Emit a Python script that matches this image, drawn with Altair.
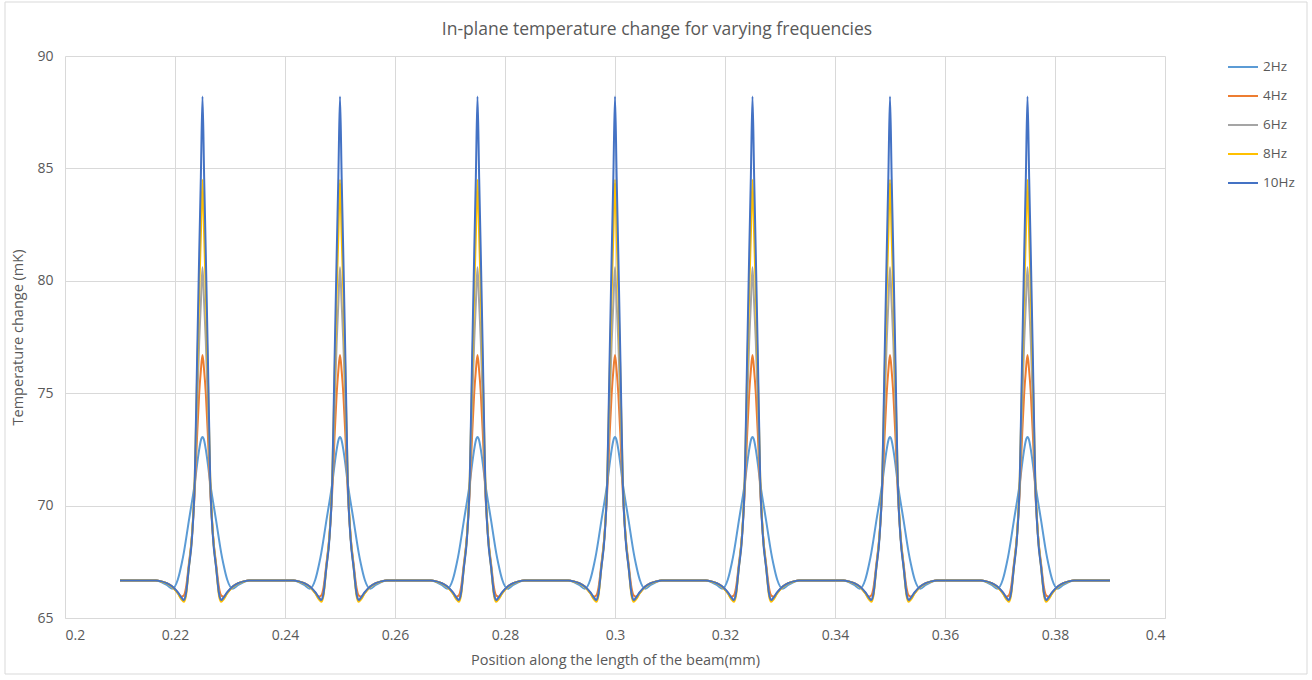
import altair as alt
import pandas as pd

# Series labels and colours (Office palette)
series = ["2Hz", "4Hz", "6Hz", "8Hz", "10Hz"]
colors = ["#5B9BD5", "#ED7D31", "#A5A5A5", "#FFC000", "#4472C4"]

# Heater positions along the beam (mm) and the flat level between them (mK)
centers = [0.225, 0.25, 0.275, 0.3, 0.325, 0.35, 0.375]
baseline = 66.67
x_start, x_end = 0.21, 0.39

# Distance from a heater centre (mm) and the temperature read at that distance
offsets = [0.0, 0.0003, 0.0006, 0.001, 0.0014, 0.0019, 0.0025, 0.003,
           0.0034, 0.0038, 0.0045, 0.0055, 0.0065, 0.0075, 0.0085]
profile_2hz = [73.05, 72.9, 72.5, 71.8, 71.0, 70.2, 69.3, 68.5,
               67.9, 67.4, 66.7, 66.3, 66.47, 66.6, 66.67]
profile_4hz = [76.7, 76.0, 75.0, 73.0, 70.7, 68.7, 67.35, 66.35,
               66.0, 65.95, 66.12, 66.4, 66.55, 66.63, 66.67]
profile_6hz = [80.6, 79.0, 77.3, 74.3, 71.0, 68.7, 67.25, 66.1,
               65.82, 65.85, 66.12, 66.4, 66.55, 66.63, 66.67]
profile_8hz = [84.5, 82.0, 79.5, 75.5, 71.3, 68.7, 67.2, 66.0,
               65.72, 65.82, 66.1, 66.38, 66.54, 66.62, 66.67]
profile_10hz = [88.2, 84.6, 81.2, 76.3, 71.2, 68.6, 67.2, 66.1,
                65.8, 65.9, 66.15, 66.4, 66.55, 66.63, 66.67]
profiles = [profile_2hz, profile_4hz, profile_6hz, profile_8hz, profile_10hz]

chart_title = "In-plane temperature change for varying frequencies"

rows = []
for name, prof in zip(series, profiles):
    rows.append({"pos": x_start, "temp": baseline, "series": name})
    for c in centers:
        left = [(c - o, v) for o, v in zip(offsets[::-1], prof[::-1])]
        right = [(c + o, v) for o, v in zip(offsets[1:], prof[1:])]
        for p, v in left + right:
            rows.append({"pos": round(p, 6), "temp": v, "series": name})
    rows.append({"pos": x_end, "temp": baseline, "series": name})
df = pd.DataFrame(rows)

x_ticks = [0.2, 0.22, 0.24, 0.26, 0.28, 0.3, 0.32, 0.34, 0.36, 0.38, 0.4]
y_ticks = [65, 70, 75, 80, 85, 90]

FONT = "Open Sans"
TEXT = "#595959"
GRID = "#D9D9D9"

lines = alt.Chart(df).mark_line(strokeWidth=2, interpolate="monotone").encode(
    x=alt.X("pos:Q",
            scale=alt.Scale(domain=[0.2, 0.4], nice=False, zero=False),
            axis=alt.Axis(values=x_ticks, format=".2~f",
                          title="Position along the length of the beam(mm)",
                          grid=True, gridColor=GRID, domainColor=GRID,
                          ticks=False, labelPadding=10, titlePadding=11)),
    y=alt.Y("temp:Q",
            scale=alt.Scale(domain=[65, 90], nice=False, zero=False),
            axis=alt.Axis(values=y_ticks, title="Temperature change (mK)",
                          grid=True, gridColor=GRID, domain=False,
                          ticks=False, labelPadding=12, titlePadding=11)),
    color=alt.Color("series:N",
                    scale=alt.Scale(domain=series, range=colors),
                    legend=alt.Legend(title=None, orient="none",
                                      legendX=1162, legendY=-5,
                                      symbolType="stroke", symbolSize=900,
                                      symbolStrokeWidth=2, labelOffset=4,
                                      rowPadding=6)),
    order=alt.value(0),
)

# Light frame around the whole chart area
frame = alt.Chart(pd.DataFrame({"k": [0]})).mark_rect(
    fill=None, stroke="#D9D9D9", strokeWidth=1
).encode(x=alt.value(-60), x2=alt.value(1242), y=alt.value(-54), y2=alt.value(618))

# Chart heading, centred over the whole chart area
heading = alt.Chart(pd.DataFrame({"t": [chart_title]})).mark_text(
    font=FONT, fontSize=17.5, color=TEXT, align="center", baseline="middle"
).encode(text="t:N", x=alt.value(592), y=alt.value(-26))

chart = alt.layer(frame, lines, heading).properties(
    width=1100,
    height=562,
    autosize=alt.AutoSizeParams(type="none"),
    padding={"left": 65, "top": 56, "right": 147, "bottom": 62},
).configure(
    font=FONT, background="white"
).configure_view(
    stroke=None
).configure_axis(
    labelFont=FONT, titleFont=FONT, labelColor=TEXT, titleColor=TEXT,
    labelFontSize=14, titleFontSize=14.5, titleFontWeight="normal"
).configure_legend(
    labelFont=FONT, labelColor=TEXT, labelFontSize=13.5
)

chart.save("out.html", embed_options={"renderer": "svg", "actions": False})
